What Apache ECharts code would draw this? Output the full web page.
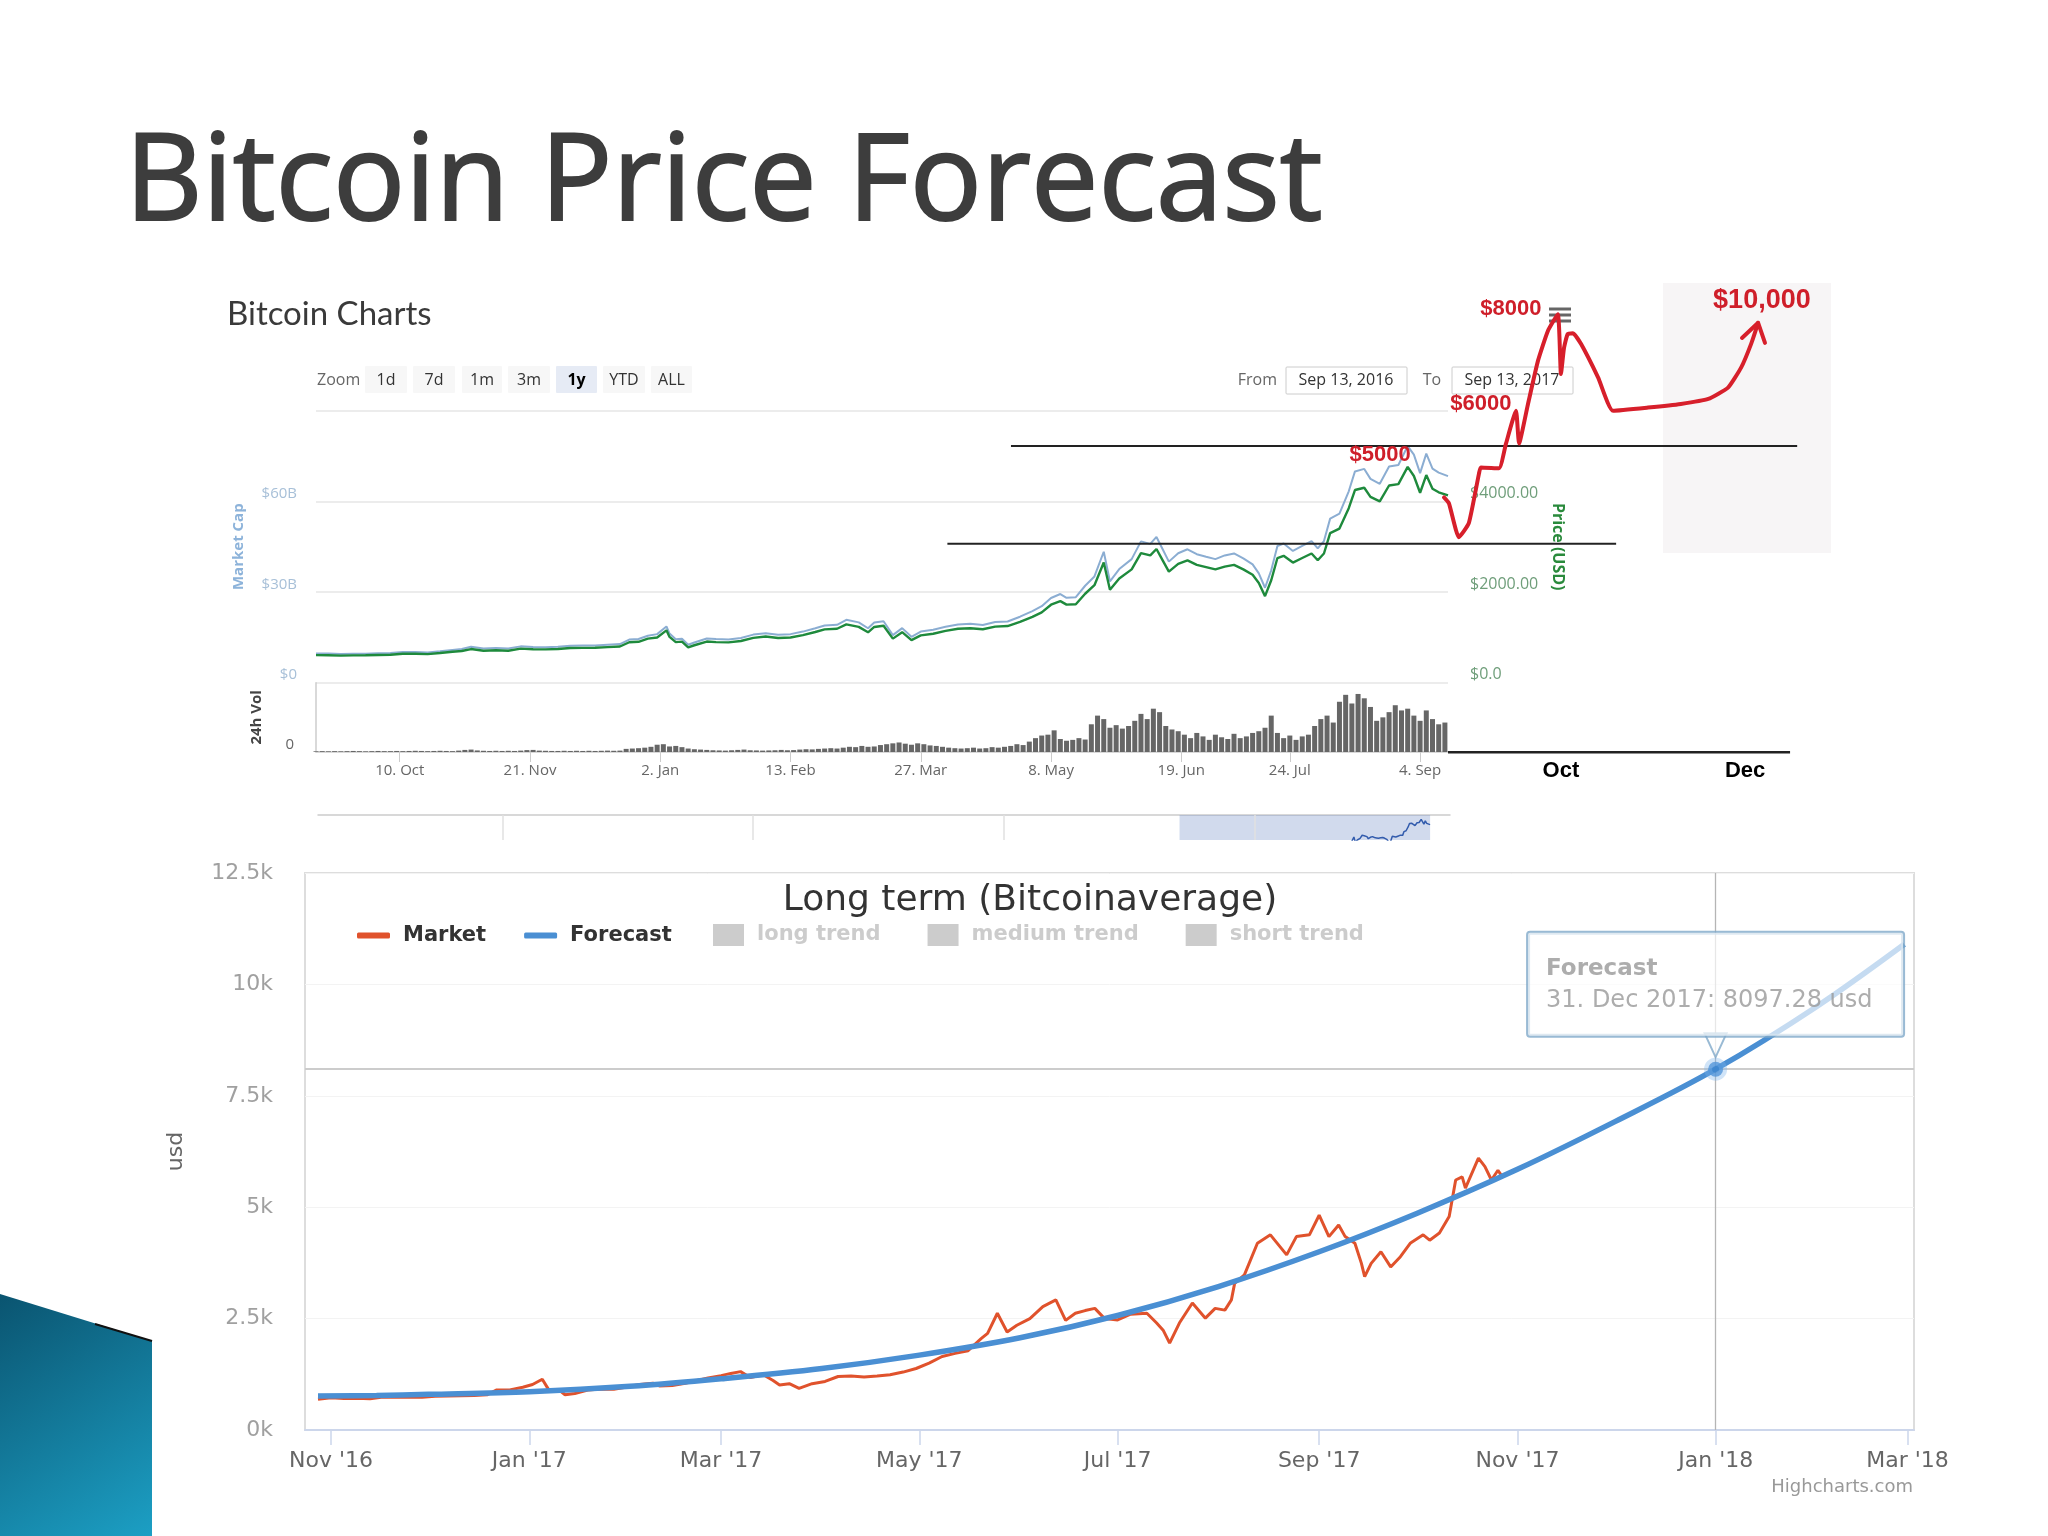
<!DOCTYPE html>
<html>
<head>
<meta charset="utf-8">
<title>Bitcoin Price Forecast</title>
<script src="https://cdn.jsdelivr.net/npm/echarts@6.0.0/dist/echarts.min.js"></script>
<style>
html,body{margin:0;padding:0;background:#ffffff;}
#chart{width:2048px;height:1536px;}
</style>
</head>
<body>
<div id="chart"></div>
<script>
// ================= DATA =================
// Top "Bitcoin Charts" panel: [date, price USD, market cap $B]
const topRows = [
['2016-09-13',608,9.67],['2016-09-17',607,9.65],['2016-09-21',598,9.51],['2016-09-25',602,9.57],['2016-09-29',605,9.62],
['2016-10-03',612,9.73],['2016-10-07',617,9.81],['2016-10-11',640,10.18],['2016-10-15',638,10.14],['2016-10-19',631,10.03],
['2016-10-23',655,10.41],['2016-10-27',682,10.84],['2016-10-30',700,11.13],['2016-11-02',742,11.87],['2016-11-06',706,11.30],
['2016-11-10',716,11.46],['2016-11-14',706,11.30],['2016-11-18',751,12.02],['2016-11-22',738,11.81],['2016-11-26',735,11.76],
['2016-11-30',743,11.89],['2016-12-04',765,12.24],['2016-12-08',769,12.30],['2016-12-12',770,12.32],['2016-12-16',784,12.54],
['2016-12-20',798,12.77],['2016-12-23',892,14.27],['2016-12-26',903,14.45],['2016-12-29',972,15.55],['2017-01-01',998,16.07],
['2017-01-04',1155,18.60],['2017-01-05',1010,16.26],['2017-01-07',895,14.41],['2017-01-09',905,14.57],['2017-01-11',780,12.56],
['2017-01-13',826,13.30],['2017-01-17',908,14.62],['2017-01-20',896,14.43],['2017-01-24',890,14.33],['2017-01-28',920,14.81],
['2017-02-01',988,15.91],['2017-02-05',1018,16.39],['2017-02-09',985,15.86],['2017-02-13',998,16.07],['2017-02-17',1050,16.91],
['2017-02-21',1118,18.00],['2017-02-24',1176,18.93],['2017-02-28',1190,19.16],['2017-03-03',1285,20.82],['2017-03-07',1232,19.96],
['2017-03-10',1112,18.01],['2017-03-12',1230,19.93],['2017-03-15',1255,20.33],['2017-03-18',972,15.75],['2017-03-21',1115,18.06],
['2017-03-24',938,15.20],['2017-03-27',1045,16.93],['2017-03-31',1080,17.50],['2017-04-04',1142,18.50],['2017-04-08',1190,19.28],
['2017-04-12',1202,19.47],['2017-04-16',1180,19.12],['2017-04-20',1238,20.06],['2017-04-24',1250,20.25],['2017-04-28',1340,21.84],
['2017-05-02',1452,23.67],['2017-05-05',1552,25.30],['2017-05-08',1720,28.04],['2017-05-11',1800,29.34],['2017-05-13',1722,28.07],
['2017-05-16',1730,28.28],['2017-05-19',1962,32.08],['2017-05-22',2150,35.15],['2017-05-25',2650,43.33],['2017-05-27',2050,33.52],
['2017-05-30',2300,37.61],['2017-06-03',2500,40.88],['2017-06-06',2860,46.76],['2017-06-09',2810,45.94],['2017-06-11',2950,48.23],
['2017-06-13',2700,44.15],['2017-06-15',2450,40.06],['2017-06-18',2620,42.84],['2017-06-21',2700,44.15],['2017-06-24',2600,42.51],
['2017-06-27',2550,41.69],['2017-06-30',2500,40.88],['2017-07-03',2560,42.11],['2017-07-06',2600,42.77],['2017-07-09',2500,41.13],
['2017-07-12',2380,39.15],['2017-07-14',2200,36.19],['2017-07-16',1910,31.42],['2017-07-18',2260,37.18],['2017-07-20',2750,45.24],
['2017-07-22',2800,46.06],['2017-07-25',2650,43.59],['2017-07-28',2750,45.24],['2017-07-31',2850,46.88],['2017-08-02',2700,44.42],
['2017-08-04',2850,46.88],['2017-08-06',3300,54.29],['2017-08-09',3400,55.93],['2017-08-12',3850,63.33],['2017-08-14',4250,69.91],
['2017-08-17',4300,70.74],['2017-08-19',4100,67.45],['2017-08-22',4000,65.80],['2017-08-25',4350,71.56],['2017-08-28',4380,72.05],
['2017-08-31',4760,78.30],['2017-09-02',4560,75.47],['2017-09-04',4190,69.34],['2017-09-06',4580,75.80],['2017-09-08',4280,70.83],
['2017-09-10',4200,69.51],['2017-09-13',4130,68.35]
];
// 24h volume ($B), one bar every 2 days from 2016-09-13
const volumeStart = [2016, 9, 13];
const volumeStepDays = 2;
const volumeB = [
0.04,0.05,0.04,0.05,0.04,0.05,0.06,0.05,0.04,0.05,0.06,0.05,0.05,0.06,0.05,0.06,0.07,0.06,0.05,0.06,
0.07,0.06,0.05,0.08,0.12,0.14,0.09,0.07,0.06,0.07,0.06,0.07,0.06,0.08,0.11,0.12,0.08,0.07,0.06,0.06,
0.07,0.06,0.07,0.06,0.07,
0.06,0.07,0.08,0.07,0.08,
0.18,0.2,0.22,0.25,0.3,0.42,0.45,0.32,0.35,0.28,0.2,0.16,0.14,
0.12,0.1,0.09,0.08,0.1,0.12,0.14,0.1,0.09,0.08,0.09,0.1,0.12,0.1,0.11,0.14,0.16,0.15,0.18,0.2,0.22,0.2,
0.25,0.3,0.28,0.35,0.3,0.32,0.4,0.45,0.5,0.55,0.48,0.42,0.5,0.45,0.38,0.35,0.3,0.25,0.22,0.2,0.22,0.25,0.2,0.22,0.28,0.25,0.3,
0.35,0.45,0.4,0.6,0.8,0.95,1.0,
1.25,
0.75,0.65,0.7,0.8,0.72,
1.6,2.1,1.9,
1.4,1.55,1.35,1.5,
1.8,2.2,1.9,2.5,2.3,
1.5,1.3,1.2,
1.0,0.8,1.1,0.9,0.7,1.0,0.85,0.75,1.05,0.8,0.9,1.1,1.2,
1.4,2.1,
1.1,0.8,0.95,0.7,0.9,1.0,
1.5,1.9,2.1,1.7,
2.9,3.3,2.8,3.35,3.1,2.6,
1.8,2.0,
2.3,2.7,2.4,
2.5,2.1,1.8,2.4,1.9,1.6,1.7
];
const topTickDates = ['2016-10-10','2016-11-21','2017-01-02','2017-02-13','2017-03-27','2017-05-08','2017-06-19','2017-07-24','2017-09-04'];
const navYearLines = ['2014-01-01','2015-01-01','2016-01-01','2017-01-01'];
const navSelected = ['2016-09-13','2017-09-13'];

// Hand-drawn red projection (in the price scale of the top panel)
const drawnDates = ['2017-09-11 17:00','2017-09-13 07:00','2017-09-16 12:00','2017-09-19 17:00','2017-09-23 00:00','2017-09-23 14:00',
'2017-09-29 10:00','2017-10-01 17:00','2017-10-04 22:00','2017-10-05 22:00','2017-10-08 19:00','2017-10-12 00:00','2017-10-15 05:00',
'2017-10-18 10:00','2017-10-19 10:00','2017-10-20 10:00','2017-10-21 14:00','2017-10-23 07:00','2017-10-25 22:00','2017-10-31 10:00',
'2017-11-05 05:00','2017-11-16 12:00','2017-11-27 02:00','2017-12-05 22:00','2017-12-12 07:00','2017-12-16 12:00','2017-12-19 17:00',
'2017-12-22 00:00'];
const drawnUSD = [4090,3960,3210,3520,4620,4750,4730,5280,6000,5280,6150,7100,7760,8130,6810,7390,7690,7710,7470,6730,
6000,6070,6150,6260,6510,6950,7470,7940];
const arrowDates = ['2017-12-16 19:00','2017-12-22 00:00','2017-12-24 05:00'];
const arrowUSD = [7605,7940,7495];
const upperLineDates = ['2017-04-25 02:00','2018-01-03 14:00'];
const upperLineUSD = [5220,5220];
const lowerLineDates = ['2017-04-04 14:00','2017-11-06 05:00'];
const lowerLineUSD = [3066,3066];
const baseExtDates = ['2017-09-13','2018-01-01 07:00'];
const baseExtLevel = [-1530,-1530];
const annoLabels = ['$5000','$6000','$8000','$10,000'];
const annoDates = ['2017-08-22 02:00','2017-09-23 14:00','2017-10-03 07:00','2017-12-23 05:00'];
const annoUSD = [5033,6154,8243,8440];
const overlayTickDates = ['2017-10-19 10:00','2017-12-17 19:00'];

// Bottom "Long term (Bitcoinaverage)" panel
const marketRows = [
['2016-10-28',690],['2016-11-01',725],['2016-11-05',705],['2016-11-09',715],['2016-11-13',700],['2016-11-17',740],['2016-11-21',735],
['2016-11-25',735],['2016-11-29',735],['2016-12-03',760],['2016-12-07',765],['2016-12-11',770],['2016-12-15',775],['2016-12-19',790],
['2016-12-22',900],['2016-12-26',900],['2016-12-30',960],['2017-01-02',1020],['2017-01-05',1140],['2017-01-07',900],['2017-01-10',905],
['2017-01-12',790],['2017-01-15',820],['2017-01-19',895],['2017-01-23',920],['2017-01-27',915],['2017-01-31',965],['2017-02-04',1020],
['2017-02-08',1050],['2017-02-10',990],['2017-02-14',1000],['2017-02-18',1050],['2017-02-22',1120],['2017-02-25',1170],['2017-03-01',1220],
['2017-03-04',1270],['2017-03-07',1310],['2017-03-10',1180],['2017-03-14',1240],['2017-03-17',1110],['2017-03-19',1010],['2017-03-22',1040],
['2017-03-25',935],['2017-03-29',1040],['2017-04-02',1090],['2017-04-06',1200],['2017-04-10',1210],['2017-04-14',1190],['2017-04-18',1210],
['2017-04-22',1240],['2017-04-26',1300],['2017-04-30',1380],['2017-05-04',1500],['2017-05-08',1650],['2017-05-12',1720],['2017-05-16',1780],
['2017-05-20',2050],['2017-05-22',2170],['2017-05-25',2620],['2017-05-28',2200],['2017-05-31',2350],['2017-06-04',2500],['2017-06-08',2770],
['2017-06-12',2920],['2017-06-15',2460],['2017-06-18',2620],['2017-06-21',2680],['2017-06-24',2730],['2017-06-27',2500],['2017-07-01',2470],
['2017-07-05',2600],['2017-07-10',2620],['2017-07-13',2400],['2017-07-15',2240],['2017-07-17',1950],['2017-07-20',2400],['2017-07-24',2850],
['2017-07-28',2510],['2017-07-31',2730],['2017-08-03',2690],['2017-08-05',2920],['2017-08-06',3290],['2017-08-09',3480],['2017-08-13',4190],
['2017-08-17',4380],['2017-08-20',4110],['2017-08-22',3930],['2017-08-25',4340],['2017-08-29',4380],['2017-09-01',4820],['2017-09-04',4340],
['2017-09-07',4600],['2017-09-09',4340],['2017-09-12',4190],['2017-09-14',3740],['2017-09-15',3440],['2017-09-17',3740],['2017-09-20',4000],
['2017-09-23',3660],['2017-09-26',3890],['2017-09-29',4190],['2017-10-03',4380],['2017-10-05',4260],['2017-10-08',4420],['2017-10-11',4790],
['2017-10-13',5610],['2017-10-15',5680],['2017-10-16',5430],['2017-10-20',6100],['2017-10-22',5910],['2017-10-24',5610],['2017-10-26',5830],
['2017-10-27',5720]
];
const forecastDates = ['2016-10-28','2016-11-15','2016-12-01','2017-01-01','2017-02-01','2017-03-01','2017-04-01','2017-05-01','2017-06-01',
'2017-07-01','2017-08-01','2017-09-01','2017-10-01','2017-11-01','2017-12-01','2017-12-31 23:00','2018-02-01','2018-02-28'];
const forecastUSD = [765,775,800,860,980,1150,1380,1680,2070,2570,3220,4000,4860,5850,6920,8097.28,9500,10900];
const bottomTickDates = ['2016-11-01','2017-01-01','2017-03-01','2017-05-01','2017-07-01','2017-09-01','2017-11-01','2018-01-01','2018-03-01'];
const tipDate = '2017-12-31 23:00';
const tipUSD = 8097.28;

// ================= HELPERS =================
const MONTHS = ['Jan','Feb','Mar','Apr','May','Jun','Jul','Aug','Sep','Oct','Nov','Dec'];
function ts(s) {
  const m = s.match(/(\d+)-(\d+)-(\d+)(?:\s+(\d+):(\d+))?/);
  return new Date(+m[1], +m[2] - 1, +m[3], +(m[4] || 0), +(m[5] || 0)).getTime();
}
function zip(dates, vals) { return dates.map((d, i) => [ts(d), vals[i]]); }
const volumeData = volumeB.map((v, i) => [new Date(volumeStart[0], volumeStart[1] - 1, volumeStart[2] + volumeStepDays * i).getTime(), v]);

function txt(text, x, y, o) {
  o = o || {};
  const align = o.align || 'left', valign = o.valign || 'middle';
  return {
    type: 'text', z: o.z == null ? 1 : o.z, silent: true,
    style: {
      text: text, x: x, y: y,
      fill: o.fill || '#333',
      stroke: o.stroke || null, lineWidth: o.lineWidth || 0,
      fontSize: o.size || 16,
      fontFamily: o.family || 'Open Sans',
      fontWeight: o.weight || 'normal',
      align: align, verticalAlign: valign,
      textAlign: align, textVerticalAlign: valign,
      shadowBlur: o.shadowBlur || 0, shadowColor: o.shadowColor || 'transparent',
      shadowOffsetX: o.sx || 0, shadowOffsetY: o.sy || 0
    }
  };
}
function box(x, y, w, h, fill, stroke, lw) {
  return { type: 'rect', z: 1, silent: true, shape: { x: x, y: y, width: w, height: h, r: 1 },
    style: { fill: fill, stroke: stroke || null, lineWidth: lw || 0 } };
}

// ================= UI (range selector etc.) =================
const zoomButtons = [['1d',365,407],['7d',413,455],['1m',462,502],['3m',508,550],['1y',556,597],['YTD',603,645],['ALL',651,692]];
const graphics = [];
graphics.push(txt('Bitcoin Price Forecast', 125, 186, { size: 120, fill: '#3d3d3d', family: 'Open Sans',
  stroke: '#3d3d3d', lineWidth: 2, shadowBlur: 4, shadowColor: 'rgba(0,0,0,0.35)', sx: 2, sy: 3 }));
graphics.push(txt('Bitcoin Charts', 227, 314, { size: 33, fill: '#3a3a3a', family: 'Lato' }));
graphics.push(txt('Zoom', 317, 380, { size: 16, fill: '#666' }));
zoomButtons.forEach(b => {
  const sel = b[0] === '1y';
  graphics.push(box(b[1], 366, b[2] - b[1], 27, sel ? '#e6ebf5' : '#f7f7f7'));
  graphics.push(txt(b[0], (b[1] + b[2]) / 2, 380, { size: 16, fill: sel ? '#000' : '#333', align: 'center', weight: sel ? 'bold' : 'normal' }));
});
graphics.push(txt('From', 1277, 380, { size: 16, fill: '#666', align: 'right' }));
graphics.push(box(1286, 367, 121, 27, '#ffffff', '#cccccc', 1));
graphics.push(txt('Sep 13, 2016', 1346, 380, { size: 16, fill: '#333', align: 'center' }));
graphics.push(txt('To', 1432, 380, { size: 16, fill: '#666', align: 'center' }));
graphics.push(box(1452, 367, 121, 27, '#ffffff', '#cccccc', 1));
graphics.push(txt('Sep 13, 2017', 1512, 380, { size: 16, fill: '#333', align: 'center' }));
graphics.push({ type: 'rect', z: 0, silent: true, shape: { x: 1663, y: 283, width: 168, height: 270 }, style: { fill: '#f7f5f6' } });
[309, 315, 321].forEach(y => graphics.push({ type: 'rect', z: 1, silent: true, shape: { x: 1549, y: y - 1.5, width: 22, height: 3 }, style: { fill: '#666' } }));
graphics.push(txt('Long term (Bitcoinaverage)', 1030, 901, { size: 36, fill: '#333', family: 'DejaVu Sans', align: 'center' }));
graphics.push(txt('Highcharts.com', 1913, 1487, { size: 18, fill: '#999', family: 'DejaVu Sans', align: 'right' }));
graphics.push({ type: 'polygon', z: 1, silent: true,
  shape: { points: [[0, 1294], [152, 1341], [152, 1536], [0, 1536]] },
  style: { fill: new echarts.graphic.LinearGradient(0, 0, 1, 1, [{ offset: 0, color: '#0a5470' }, { offset: 1, color: '#1c9fc4' }]) } });
graphics.push({ type: 'line', z: 1, silent: true, shape: { x1: 95, y1: 1324, x2: 152, y2: 1341 }, style: { stroke: '#111', lineWidth: 2 } });

// ================= OPTION =================
const chart = echarts.init(document.getElementById('chart'), null, { renderer: 'canvas' });
const topLabelFmt = v => { const d = new Date(v); return d.getDate() + '. ' + MONTHS[d.getMonth()]; };
const bottomLabelFmt = v => { const d = new Date(v); return MONTHS[d.getMonth()] + " '" + String(d.getFullYear()).slice(2); };

const option = {
  animation: false,
  backgroundColor: '#ffffff',
  graphic: { elements: graphics },
  grid: [
    { left: 316, top: 410.7, width: 1132, height: 272 },
    { left: 316, top: 682.7, width: 1132, height: 69.3 },
    { left: 318, top: 815, width: 1132, height: 25 },
    { left: 316, top: 229.4, width: 1566.2, height: 525.9 },
    { left: 305, top: 873, width: 1609, height: 557, show: true, borderColor: '#dddddd', borderWidth: 2, backgroundColor: 'transparent' }
  ],
  xAxis: [
    { type: 'value', gridIndex: 0, min: ts('2016-09-13'), max: ts('2017-09-13'), show: false },
    { type: 'value', gridIndex: 1, min: ts('2016-09-13'), max: ts('2017-09-13'),
      axisLine: { show: true, lineStyle: { color: '#cccccc', width: 1.5 } },
      axisTick: { show: true, customValues: topTickDates.map(ts), length: 10, lineStyle: { color: '#cccccc' } },
      axisLabel: { customValues: topTickDates.map(ts), formatter: topLabelFmt, color: '#666', fontSize: 15, fontFamily: 'Open Sans', margin: 11 },
      splitLine: { show: false } },
    { type: 'value', gridIndex: 2, min: ts('2013-04-07'), max: ts('2017-10-12'), position: 'top',
      axisLine: { show: true, lineStyle: { color: '#cccccc', width: 1.5 } },
      axisTick: { show: false }, axisLabel: { show: false }, splitLine: { show: false } },
    { type: 'value', gridIndex: 3, min: ts('2016-09-13'), max: ts('2018-01-31'),
      axisLine: { show: false }, axisTick: { show: false }, splitLine: { show: false },
      axisLabel: { customValues: overlayTickDates.map(ts), formatter: v => MONTHS[new Date(v).getMonth()],
        color: '#000', fontSize: 22, fontWeight: 'bold', fontFamily: 'Liberation Sans', margin: 5 } },
    { type: 'value', gridIndex: 4, min: ts('2016-10-24'), max: ts('2018-03-03'),
      axisLine: { show: true, lineStyle: { color: '#ccd6eb', width: 2 } },
      axisTick: { show: true, customValues: bottomTickDates.map(ts), length: 15, lineStyle: { color: '#ccd6eb', width: 1.5 } },
      axisLabel: { customValues: bottomTickDates.map(ts), formatter: bottomLabelFmt, color: '#666', fontSize: 22, fontFamily: 'DejaVu Sans', margin: 20 },
      splitLine: { show: false } }
  ],
  yAxis: [
    { type: 'value', gridIndex: 0, position: 'left', min: 0, max: 90, interval: 30,
      axisLine: { show: false }, axisTick: { show: false },
      axisLabel: { formatter: v => v === 0 ? '$0' : '$' + v + 'B', showMaxLabel: false, color: '#a8c0d8', fontSize: 15,
        fontFamily: 'Open Sans', margin: 19, verticalAlign: 'bottom' },
      splitLine: { show: true, lineStyle: { color: '#e6e6e6', width: 1.5 } },
      name: 'Market Cap', nameLocation: 'middle', nameGap: 70,
      nameTextStyle: { color: '#8db3da', fontWeight: 'bold', fontSize: 15, fontFamily: 'Open Sans' } },
    { type: 'value', gridIndex: 0, position: 'right', min: 0, max: 6000, interval: 2000,
      axisLine: { show: false }, axisTick: { show: false },
      axisLabel: { formatter: v => v === 0 ? '$0.0' : '$' + v.toFixed(2), showMaxLabel: false, color: '#6f9e7a', fontSize: 16,
        fontFamily: 'Open Sans', margin: 22, verticalAlign: 'bottom' },
      splitLine: { show: false },
      name: 'Price (USD)', nameLocation: 'middle', nameGap: 102, nameRotate: -90,
      nameTextStyle: { color: '#2a8a3c', fontWeight: 'bold', fontSize: 16, fontFamily: 'Open Sans' } },
    { type: 'value', gridIndex: 1, position: 'left', min: 0, max: 4, interval: 4,
      axisLine: { show: true, lineStyle: { color: '#cccccc', width: 1.5 } }, axisTick: { show: false },
      axisLabel: { formatter: v => v === 0 ? '0' : '', color: '#666', fontSize: 15, fontFamily: 'Open Sans', margin: 22, verticalAlign: 'bottom' },
      splitLine: { show: false },
      name: '24h Vol', nameLocation: 'middle', nameGap: 52,
      nameTextStyle: { color: '#444', fontWeight: 'bold', fontSize: 15, fontFamily: 'Open Sans' } },
    { type: 'value', gridIndex: 2, min: 2300, max: 5270, show: false },
    { type: 'value', gridIndex: 3, min: -1600, max: 10000, show: false },
    { type: 'value', gridIndex: 4, min: 0, max: 12500, interval: 2500,
      axisLine: { show: false }, axisTick: { show: false },
      axisLabel: { formatter: v => (v / 1000) + 'k', color: '#a0a0a0', fontSize: 22, fontFamily: 'DejaVu Sans', margin: 32 },
      splitLine: { show: true, lineStyle: { color: '#f3f3f3', width: 1 } },
      name: 'usd', nameLocation: 'middle', nameGap: 118,
      nameTextStyle: { color: '#666', fontSize: 22, fontFamily: 'DejaVu Sans' } }
  ],
  legend: [
    { data: [{ name: 'Market', icon: 'roundRect' }, { name: 'Forecast', icon: 'roundRect' }],
      left: 357, top: 925, padding: 0, itemWidth: 33, itemHeight: 6, itemGap: 38, selectedMode: false,
      itemStyle: { borderWidth: 0 },
      textStyle: { fontFamily: 'DejaVu Sans', fontWeight: 'bold', fontSize: 21, color: '#333', padding: [0, 0, 0, 8] } },
    { data: [{ name: 'long trend', icon: 'rect' }, { name: 'medium trend', icon: 'rect' }, { name: 'short trend', icon: 'rect' }],
      left: 713, top: 924, padding: 0, itemWidth: 31, itemHeight: 22, itemGap: 47, selectedMode: false,
      selected: { 'long trend': false, 'medium trend': false, 'short trend': false },
      inactiveColor: '#cccccc', itemStyle: { borderWidth: 0 },
      textStyle: { fontFamily: 'DejaVu Sans', fontWeight: 'bold', fontSize: 21, color: '#cccccc', padding: [0, 0, 0, 8] } }
  ],
  series: [
    // --- top panel ---
    { name: 'Market Cap (USD B)', type: 'line', xAxisIndex: 0, yAxisIndex: 0, symbol: 'none', z: 2,
      data: topRows.map(r => [ts(r[0]), r[2]]), lineStyle: { color: '#8badd2', width: 2 }, itemStyle: { color: '#8badd2' } },
    { name: 'Price USD', type: 'line', xAxisIndex: 0, yAxisIndex: 1, symbol: 'none', z: 3,
      data: topRows.map(r => [ts(r[0]), r[1]]), lineStyle: { color: '#1e8a3c', width: 2.4 }, itemStyle: { color: '#1e8a3c' } },
    { name: '24h Volume', type: 'bar', xAxisIndex: 1, yAxisIndex: 2, data: volumeData, barWidth: 5,
      itemStyle: { color: '#666666' }, z: 2 },
    { name: 'Navigator', type: 'line', xAxisIndex: 2, yAxisIndex: 3, symbol: 'none', clip: true, z: 3,
      data: topRows.map(r => [ts(r[0]), r[1]]), lineStyle: { color: '#335cad', width: 1.5 },
      markArea: { silent: true, itemStyle: { color: 'rgba(102,133,194,0.3)' },
        data: [[{ xAxis: ts(navSelected[0]) }, { xAxis: ts(navSelected[1]) }]] },
      markLine: { silent: true, symbol: ['none', 'none'], label: { show: false },
        lineStyle: { color: '#e0e0e0', width: 1.5, type: 'solid' },
        data: navYearLines.map(d => ({ xAxis: ts(d) })) } },
    // --- hand-drawn annotations (overlay) ---
    { name: 'Upper level', type: 'line', xAxisIndex: 3, yAxisIndex: 4, symbol: 'none', z: 5,
      data: zip(upperLineDates, upperLineUSD), lineStyle: { color: '#222', width: 2 } },
    { name: 'Lower level', type: 'line', xAxisIndex: 3, yAxisIndex: 4, symbol: 'none', z: 5,
      data: zip(lowerLineDates, lowerLineUSD), lineStyle: { color: '#222', width: 2 } },
    { name: 'Baseline extension', type: 'line', xAxisIndex: 3, yAxisIndex: 4, symbol: 'none', z: 5,
      data: zip(baseExtDates, baseExtLevel), lineStyle: { color: '#222', width: 2.5 } },
    { name: 'Projection', type: 'line', xAxisIndex: 3, yAxisIndex: 4, symbol: 'none', z: 6, smooth: 0.15,
      data: zip(drawnDates, drawnUSD), lineStyle: { color: '#d71f2b', width: 4, cap: 'round', join: 'round' } },
    { name: 'Projection arrow', type: 'line', xAxisIndex: 3, yAxisIndex: 4, symbol: 'none', z: 6,
      data: zip(arrowDates, arrowUSD), lineStyle: { color: '#d71f2b', width: 4, cap: 'round', join: 'round' } },
    { name: 'Annotations', type: 'scatter', xAxisIndex: 3, yAxisIndex: 4, symbolSize: 2, z: 7, silent: true,
      itemStyle: { color: 'rgba(0,0,0,0)' },
      data: annoDates.map((d, i) => ({ name: annoLabels[i], value: [ts(d), annoUSD[i]],
        label: { fontSize: annoLabels[i].length > 5 ? 27 : 22 } })),
      label: { show: true, position: 'inside', formatter: '{b}', color: '#cf1f2a', fontWeight: 'bold',
        fontFamily: 'Liberation Sans', fontSize: 22, opacity: 1 } },
    // --- bottom panel ---
    { name: 'Market', type: 'line', xAxisIndex: 4, yAxisIndex: 5, symbol: 'none', z: 3, color: '#e0522c',
      data: marketRows.map(r => [ts(r[0]), r[1]]), lineStyle: { color: '#e0522c', width: 3 },
      markLine: { silent: true, symbol: ['none', 'none'], label: { show: false }, z: 1,
        data: [
          { xAxis: ts(tipDate), lineStyle: { color: '#b5b5b5', width: 1.3, type: 'solid' } },
          { yAxis: tipUSD, lineStyle: { color: '#cccccc', width: 2, type: 'solid' } }
        ] } },
    { name: 'Forecast', type: 'line', xAxisIndex: 4, yAxisIndex: 5, symbol: 'none', z: 4, color: '#4a8fd3',
      smooth: 0.35, data: zip(forecastDates, forecastUSD), lineStyle: { color: '#4a8fd3', width: 5.5 } },
    { name: 'long trend', type: 'line', xAxisIndex: 4, yAxisIndex: 5, data: [], color: '#cccccc' },
    { name: 'medium trend', type: 'line', xAxisIndex: 4, yAxisIndex: 5, data: [], color: '#cccccc' },
    { name: 'short trend', type: 'line', xAxisIndex: 4, yAxisIndex: 5, data: [], color: '#cccccc' },
    { name: 'Tooltip pointer', type: 'scatter', xAxisIndex: 4, yAxisIndex: 5, z: 9, silent: true,
      symbol: 'path://M0,0 L20,0 L10,22 Z', symbolSize: [22, 24], symbolOffset: [0, -24],
      itemStyle: { color: 'rgba(255,255,255,0.95)', borderColor: '#7fa9c9', borderWidth: 2 },
      data: [[ts(tipDate), tipUSD]] },
    { name: 'Forecast point', type: 'scatter', xAxisIndex: 4, yAxisIndex: 5, z: 10, silent: true,
      symbolSize: 15, itemStyle: { color: '#3d86cf', borderColor: 'rgba(124,181,236,0.45)', borderWidth: 8 },
      data: [[ts(tipDate), tipUSD]],
      label: {
        show: true, position: 'top', distance: 22,
        backgroundColor: 'rgba(255,255,255,0.85)', borderColor: '#7fa9c9', borderWidth: 2, borderRadius: 2,
        padding: [20, 17, 19, 18], width: 340,
        formatter: () => {
          const d = new Date(ts(tipDate));
          return '{t|Forecast}\n{v|' + d.getDate() + '. ' + MONTHS[d.getMonth()] + ' ' + d.getFullYear() + ': ' + tipUSD.toFixed(2) + ' usd}';
        },
        rich: {
          t: { fontFamily: 'DejaVu Sans', fontWeight: 'bold', fontSize: 23, color: '#999', lineHeight: 32, align: 'left' },
          v: { fontFamily: 'DejaVu Sans', fontSize: 24, color: '#999', lineHeight: 32, align: 'left' }
        }
      } }
  ]
};
chart.setOption(option);
</script>
</body>
</html>
